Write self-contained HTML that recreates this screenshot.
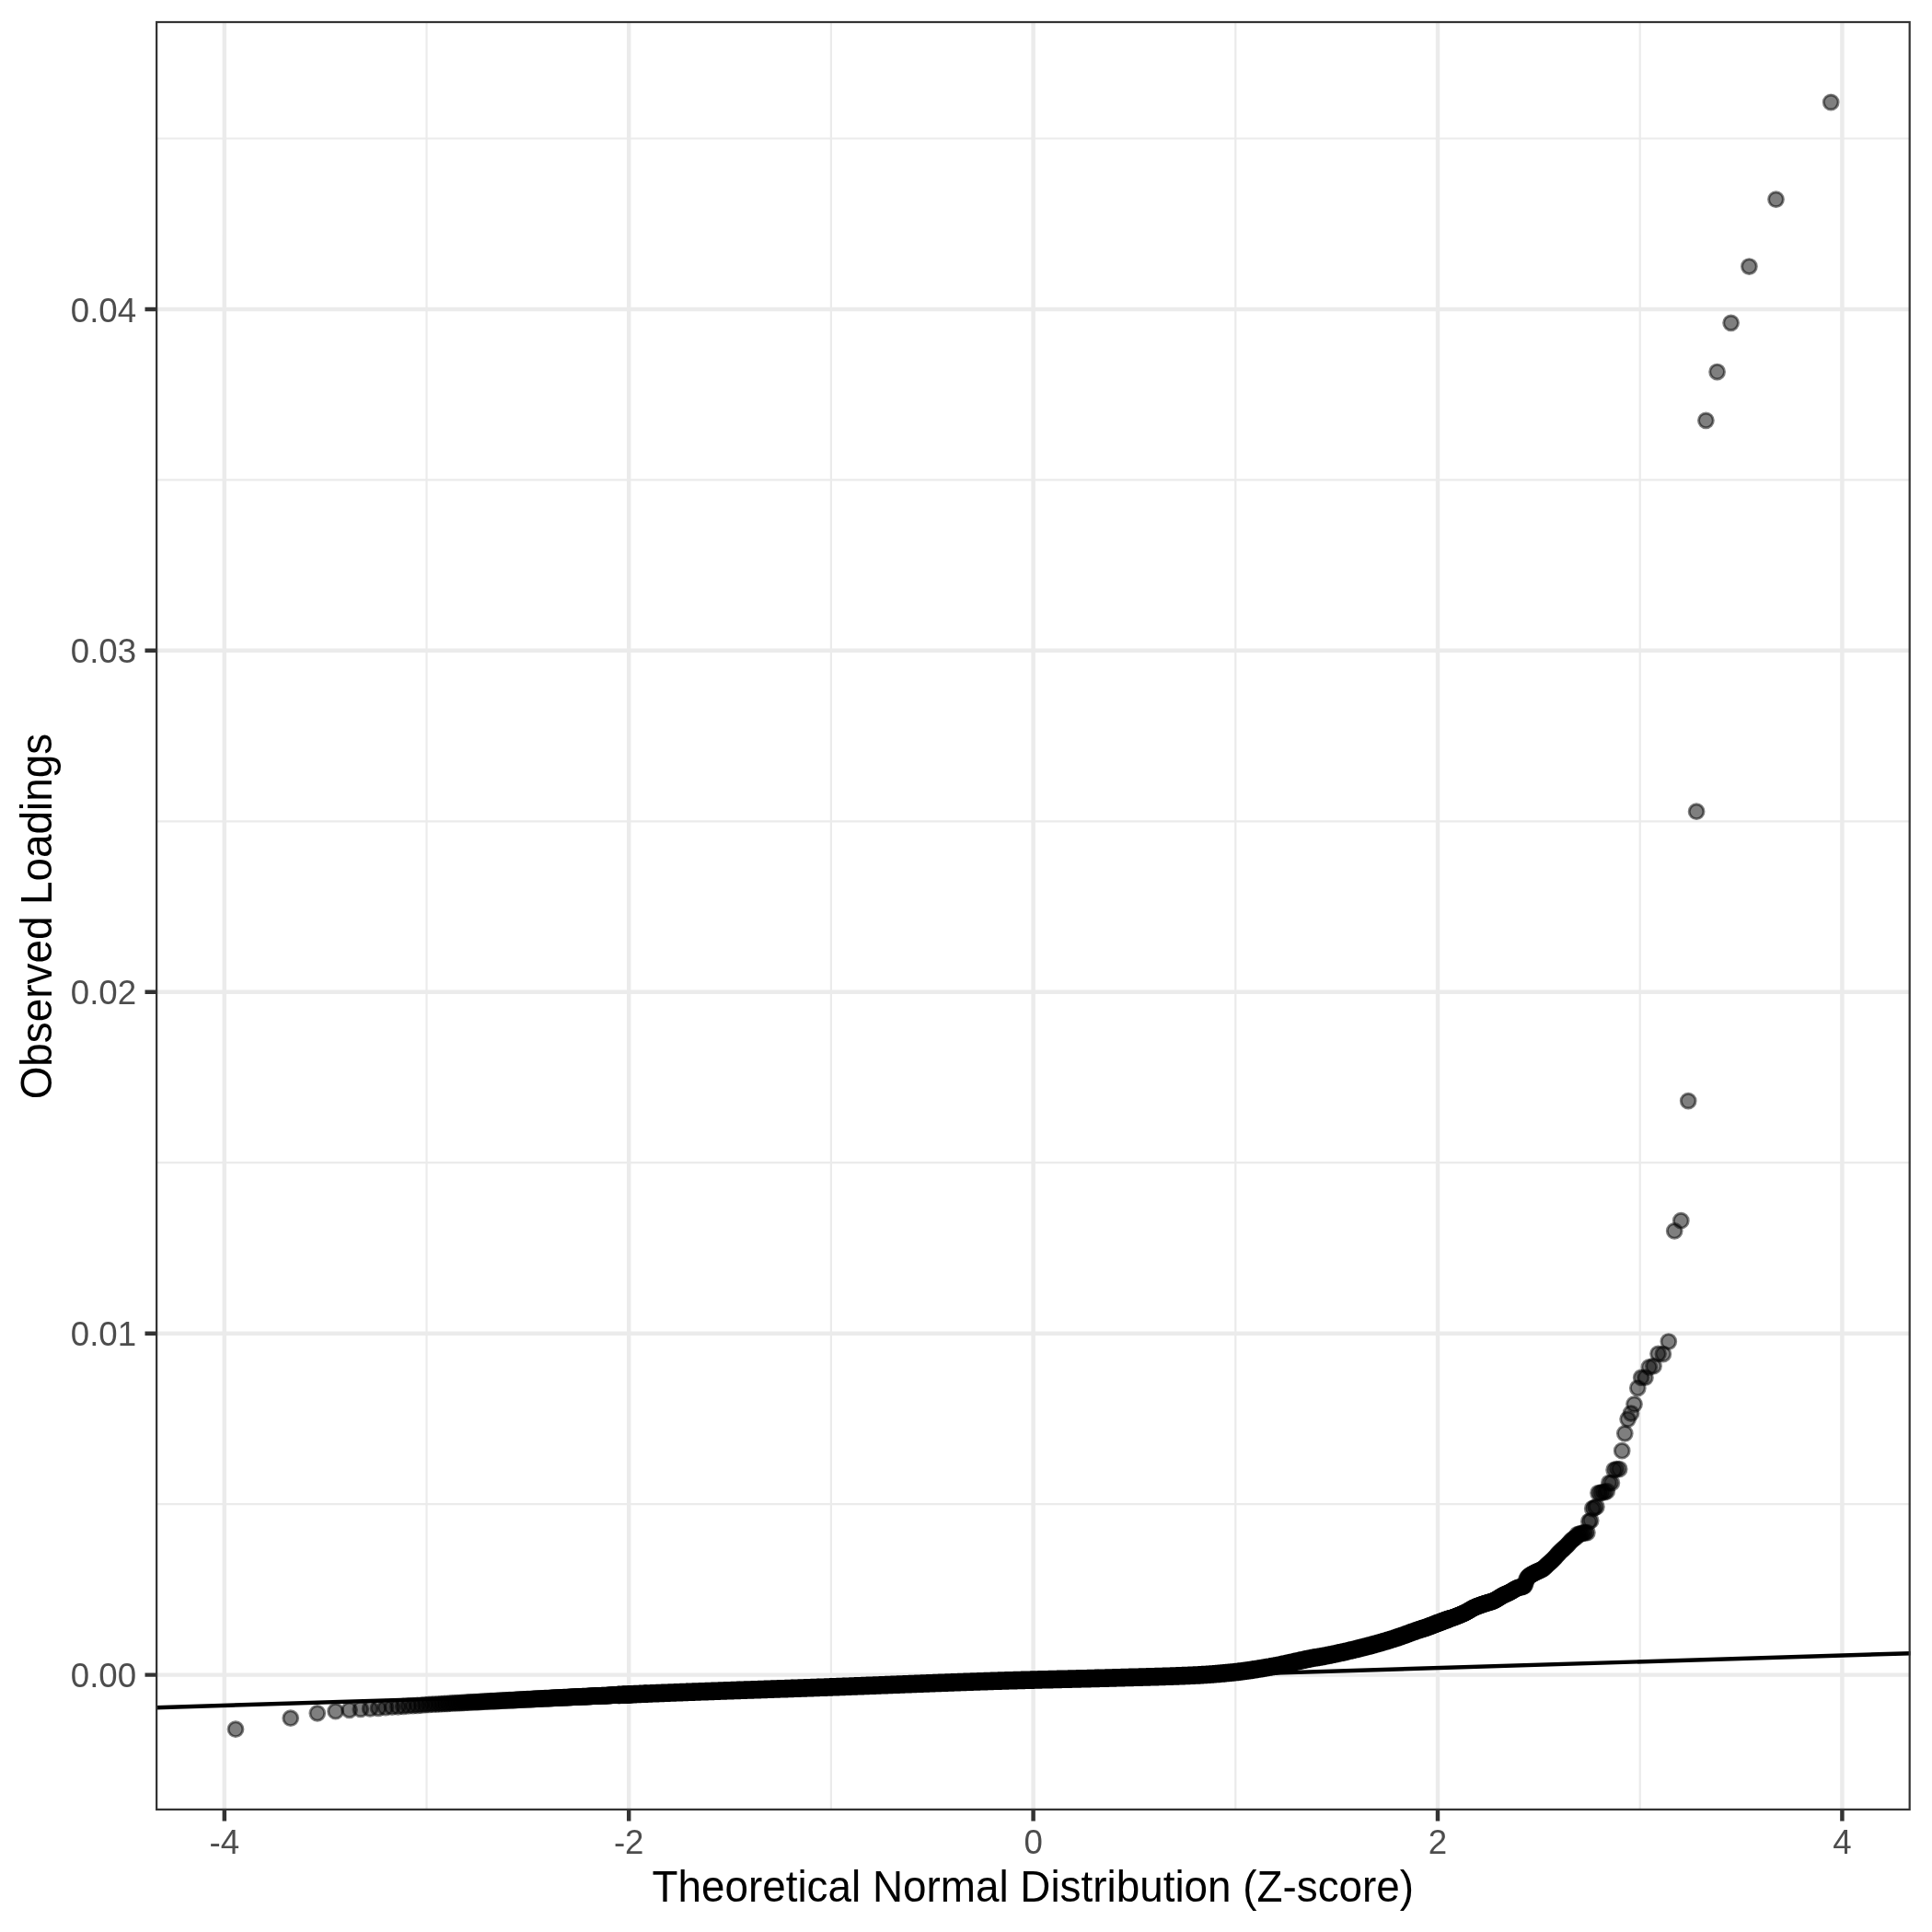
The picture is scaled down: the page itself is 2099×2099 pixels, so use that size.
<!DOCTYPE html><html><head><meta charset="utf-8"><style>html,body{margin:0;padding:0;background:#fff;width:2099px;height:2099px;overflow:hidden}svg{display:block;will-change:transform}</style></head><body><svg width="2099" height="2099" viewBox="0 0 2099 2099"><rect width="2099" height="2099" fill="#fff"/><defs><clipPath id="p"><rect x="169.0" y="22.9" width="1906.8" height="1944.1"/></clipPath></defs><g clip-path="url(#p)"><path d="M463.5 22.9V1967.0M902.9 22.9V1967.0M1342.3 22.9V1967.0M1781.7 22.9V1967.0M169.0 1634.1H2075.8M169.0 1263.2H2075.8M169.0 892.3H2075.8M169.0 521.4H2075.8M169.0 150.5H2075.8" stroke="#EBEBEB" stroke-width="2.22" fill="none"/><path d="M243.8 22.9V1967.0M683.2 22.9V1967.0M1122.6 22.9V1967.0M1562.0 22.9V1967.0M2001.4 22.9V1967.0M169.0 1819.6H2075.8M169.0 1448.7H2075.8M169.0 1077.8H2075.8M169.0 706.8H2075.8M169.0 335.9H2075.8" stroke="#EBEBEB" stroke-width="4.45" fill="none"/><path d="M671.6 1841.4 672.7 1841.4 673.7 1841.3 674.8 1841.3 675.8 1841.2 676.9 1841.2 677.9 1841.1 678.9 1841.1 679.9 1841.1 680.9 1841.0 681.9 1841.0 682.9 1840.9 683.9 1840.9 684.9 1840.8 685.8 1840.8 686.8 1840.8 687.7 1840.7 688.6 1840.7 689.6 1840.6 690.5 1840.6 691.4 1840.6 692.3 1840.5 693.2 1840.5 694.4 1840.4 695.5 1840.4 696.7 1840.3 697.9 1840.3 699.0 1840.2 700.1 1840.2 701.2 1840.1 702.3 1840.1 703.4 1840.1 704.5 1840.0 705.6 1840.0 706.6 1839.9 707.7 1839.9 708.7 1839.8 709.8 1839.8 710.8 1839.8 711.8 1839.7 712.8 1839.7 713.8 1839.6 714.8 1839.6 715.8 1839.6 716.8 1839.5 717.7 1839.5 718.7 1839.4 719.6 1839.4 720.6 1839.4 721.5 1839.3 722.5 1839.3 723.4 1839.3 724.3 1839.2 725.2 1839.2 726.1 1839.2 727.0 1839.1 728.1 1839.1 729.2 1839.0 730.3 1839.0 731.4 1839.0 732.4 1838.9 733.5 1838.9 734.6 1838.8 735.6 1838.8 736.6 1838.8 737.7 1838.7 738.7 1838.7 739.7 1838.6 740.7 1838.6 741.7 1838.6 742.7 1838.5 743.7 1838.5 744.6 1838.5 745.6 1838.4 746.5 1838.4 747.5 1838.3 748.4 1838.3 749.4 1838.3 750.3 1838.2 751.2 1838.2 752.1 1838.2 753.1 1838.1 754.0 1838.1 754.9 1838.1 755.9 1838.0 757.0 1838.0 758.0 1838.0 759.1 1837.9 760.1 1837.9 761.1 1837.8 762.2 1837.8 763.2 1837.8 764.2 1837.7 765.2 1837.7 766.2 1837.7 767.1 1837.6 768.1 1837.6 769.1 1837.6 770.0 1837.5 771.0 1837.5 772.0 1837.5 772.9 1837.4 773.8 1837.4 774.8 1837.4 775.7 1837.3 776.6 1837.3 777.5 1837.3 778.4 1837.2 779.3 1837.2 780.4 1837.2 781.4 1837.1 782.4 1837.1 783.4 1837.0 784.4 1837.0 785.4 1837.0 786.4 1836.9 787.4 1836.9 788.4 1836.9 789.4 1836.8 790.4 1836.8 791.3 1836.8 792.3 1836.7 793.2 1836.7 794.2 1836.7 795.1 1836.6 796.1 1836.6 797.0 1836.6 797.9 1836.5 798.8 1836.5 799.7 1836.5 800.6 1836.4 801.5 1836.4 802.4 1836.4 803.5 1836.4 804.5 1836.3 805.5 1836.3 806.5 1836.2 807.4 1836.2 808.4 1836.2 809.4 1836.1 810.4 1836.1 811.3 1836.1 812.3 1836.0 813.3 1836.0 814.2 1836.0 815.1 1836.0 816.1 1835.9 817.0 1835.9 817.9 1835.9 818.9 1835.8 819.8 1835.8 820.7 1835.8 821.6 1835.7 822.5 1835.7 823.5 1835.7 824.5 1835.6 825.5 1835.6 826.5 1835.6 827.4 1835.5 828.4 1835.5 829.4 1835.5 830.3 1835.4 831.3 1835.4 832.3 1835.4 833.2 1835.3 834.1 1835.3 835.1 1835.3 836.0 1835.2 836.9 1835.2 837.9 1835.2 838.8 1835.1 839.7 1835.1 840.6 1835.1 841.5 1835.0 842.4 1835.0 843.4 1835.0 844.4 1834.9 845.3 1834.9 846.3 1834.9 847.3 1834.8 848.3 1834.8 849.2 1834.8 850.2 1834.8 851.1 1834.7 852.1 1834.7 853.0 1834.7 853.9 1834.6 854.9 1834.6 855.8 1834.6 856.7 1834.5 857.6 1834.5 858.5 1834.5 859.4 1834.4 860.3 1834.4 861.2 1834.4 862.2 1834.3 863.2 1834.3 864.1 1834.3 865.1 1834.2 866.1 1834.2 867.0 1834.2 868.0 1834.1 868.9 1834.1 869.9 1834.1 870.8 1834.0 871.7 1834.0 872.7 1834.0 873.6 1833.9 874.5 1833.9 875.4 1833.9 876.3 1833.8 877.2 1833.8 878.1 1833.8 879.0 1833.7 879.9 1833.7 880.9 1833.7 881.9 1833.6 882.8 1833.6 883.8 1833.6 884.7 1833.5 885.7 1833.5 886.6 1833.5 887.6 1833.4 888.5 1833.4 889.4 1833.4 890.4 1833.3 891.3 1833.3 892.2 1833.3 893.1 1833.2 894.0 1833.2 894.9 1833.2 895.8 1833.2 896.7 1833.1 897.6 1833.1 898.6 1833.1 899.6 1833.0 900.5 1833.0 901.5 1832.9 902.4 1832.9 903.4 1832.9 904.3 1832.8 905.2 1832.8 906.2 1832.8 907.1 1832.7 908.0 1832.7 908.9 1832.7 909.9 1832.6 910.8 1832.6 911.7 1832.6 912.6 1832.5 913.5 1832.5 914.4 1832.5 915.3 1832.4 916.2 1832.4 917.2 1832.4 918.2 1832.3 919.1 1832.3 920.0 1832.3 921.0 1832.2 921.9 1832.2 922.9 1832.2 923.8 1832.1 924.7 1832.1 925.6 1832.0 926.6 1832.0 927.5 1832.0 928.4 1831.9 929.3 1831.9 930.2 1831.9 931.1 1831.8 932.0 1831.8 932.9 1831.8 933.8 1831.7 934.8 1831.7 935.7 1831.7 936.7 1831.6 937.6 1831.6 938.5 1831.6 939.5 1831.5 940.4 1831.5 941.3 1831.4 942.3 1831.4 943.2 1831.4 944.1 1831.3 945.0 1831.3 945.9 1831.3 946.9 1831.2 947.8 1831.2 948.7 1831.2 949.6 1831.1 950.5 1831.1 951.4 1831.1 952.3 1831.0 953.2 1831.0 954.2 1831.0 955.1 1830.9 956.0 1830.9 957.0 1830.8 957.9 1830.8 958.9 1830.8 959.8 1830.7 960.7 1830.7 961.6 1830.7 962.6 1830.6 963.5 1830.6 964.4 1830.6 965.3 1830.5 966.2 1830.5 967.1 1830.5 968.0 1830.4 968.9 1830.4 969.8 1830.3 970.7 1830.3 971.6 1830.3 972.6 1830.2 973.5 1830.2 974.4 1830.2 975.4 1830.1 976.3 1830.1 977.3 1830.1 978.2 1830.0 979.1 1830.0 980.0 1830.0 981.0 1829.9 981.9 1829.9 982.8 1829.8 983.7 1829.8 984.6 1829.8 985.5 1829.7 986.4 1829.7 987.4 1829.7 988.3 1829.6 989.2 1829.6 990.1 1829.6 991.0 1829.5 991.9 1829.5 992.8 1829.5 993.7 1829.4 994.7 1829.4 995.6 1829.3 996.6 1829.3 997.5 1829.3 998.4 1829.2 999.3 1829.2 1000.3 1829.2 1001.2 1829.1 1002.1 1829.1 1003.0 1829.1 1004.0 1829.0 1004.9 1829.0 1005.8 1829.0 1006.7 1828.9 1007.6 1828.9 1008.5 1828.9 1009.4 1828.8 1010.3 1828.8 1011.2 1828.8 1012.1 1828.7 1013.0 1828.7 1013.9 1828.7 1014.8 1828.6 1015.8 1828.6 1016.7 1828.5 1017.7 1828.5 1018.6 1828.5 1019.5 1828.4 1020.5 1828.4 1021.4 1828.4 1022.3 1828.3 1023.3 1828.3 1024.2 1828.3 1025.1 1828.2 1026.0 1828.2 1026.9 1828.2 1027.9 1828.1 1028.8 1828.1 1029.7 1828.1 1030.6 1828.0 1031.5 1828.0 1032.4 1828.0 1033.3 1827.9 1034.3 1827.9 1035.2 1827.9 1036.1 1827.8 1037.0 1827.8 1037.9 1827.8 1038.8 1827.7 1039.7 1827.7 1040.6 1827.7 1041.5 1827.6 1042.4 1827.6 1043.3 1827.6 1044.2 1827.5 1045.1 1827.5 1046.1 1827.5 1047.0 1827.4 1047.9 1827.4 1048.9 1827.4 1049.8 1827.3 1050.7 1827.3 1051.7 1827.3 1052.6 1827.2 1053.5 1827.2 1054.4 1827.2 1055.4 1827.1 1056.3 1827.1 1057.2 1827.1 1058.1 1827.0 1059.1 1827.0 1060.0 1827.0 1060.9 1827.0 1061.8 1826.9 1062.7 1826.9 1063.6 1826.9 1064.5 1826.8 1065.5 1826.8 1066.4 1826.8 1067.3 1826.7 1068.2 1826.7 1069.1 1826.7 1070.0 1826.6 1070.9 1826.6 1071.8 1826.6 1072.7 1826.6 1073.6 1826.5 1074.5 1826.5 1075.4 1826.5 1076.3 1826.4 1077.2 1826.4 1078.1 1826.4 1079.0 1826.3 1079.9 1826.3 1080.8 1826.3 1081.7 1826.3 1082.6 1826.2 1083.5 1826.2 1084.4 1826.2 1085.3 1826.1 1086.2 1826.1 1087.2 1826.1 1088.1 1826.1 1089.1 1826.0 1090.0 1826.0 1090.9 1826.0 1091.9 1825.9 1092.8 1825.9 1093.7 1825.9 1094.7 1825.9 1095.6 1825.8 1096.5 1825.8 1097.5 1825.8 1098.4 1825.7 1099.3 1825.7 1100.2 1825.7 1101.2 1825.7 1102.1 1825.6 1103.0 1825.6 1104.0 1825.6 1104.9 1825.6 1105.8 1825.5 1106.7 1825.5 1107.7 1825.5 1108.6 1825.5 1109.5 1825.4 1110.5 1825.4 1111.4 1825.4 1112.3 1825.4 1113.2 1825.3 1114.2 1825.3 1115.1 1825.3 1116.0 1825.3 1116.9 1825.2 1117.9 1825.2 1118.8 1825.2 1119.7 1825.2 1120.6 1825.1 1121.6 1825.1 1122.5 1825.1 1123.4 1825.1 1124.3 1825.0 1125.3 1825.0 1126.2 1825.0 1127.1 1825.0 1128.0 1824.9 1129.0 1824.9 1129.9 1824.9 1130.8 1824.9 1131.7 1824.8 1132.7 1824.8 1133.6 1824.8 1134.5 1824.8 1135.4 1824.8 1136.4 1824.7 1137.3 1824.7 1138.2 1824.7 1139.2 1824.7 1140.1 1824.6 1141.0 1824.6 1141.9 1824.6 1142.9 1824.6 1143.8 1824.6 1144.7 1824.5 1145.7 1824.5 1146.6 1824.5 1147.5 1824.5 1148.5 1824.4 1149.4 1824.4 1150.3 1824.4 1151.3 1824.4 1152.2 1824.4 1153.1 1824.3 1154.1 1824.3 1155.0 1824.3 1155.9 1824.3 1156.9 1824.2 1157.8 1824.2 1158.7 1824.2 1159.7 1824.2 1160.6 1824.2 1161.5 1824.1 1162.4 1824.1 1163.3 1824.1 1164.2 1824.1 1165.1 1824.0 1166.0 1824.0 1166.9 1824.0 1167.8 1824.0 1168.7 1824.0 1169.6 1823.9 1170.5 1823.9 1171.4 1823.9 1172.3 1823.9 1173.2 1823.9 1174.1 1823.8 1175.0 1823.8 1175.9 1823.8 1176.8 1823.8 1177.7 1823.7 1178.6 1823.7 1179.6 1823.7 1180.5 1823.7 1181.4 1823.7 1182.3 1823.6 1183.2 1823.6 1184.1 1823.6 1185.0 1823.6 1186.0 1823.5 1186.9 1823.5 1187.8 1823.5 1188.7 1823.5 1189.6 1823.4 1190.6 1823.4 1191.5 1823.4 1192.4 1823.4 1193.3 1823.4 1194.3 1823.3 1195.2 1823.3 1196.1 1823.3 1197.1 1823.3 1198.0 1823.2 1198.9 1823.2 1199.9 1823.2 1200.8 1823.2 1201.8 1823.1 1202.7 1823.1 1203.6 1823.1 1204.5 1823.1 1205.4 1823.0 1206.3 1823.0 1207.2 1823.0 1208.1 1823.0 1209.0 1822.9 1209.9 1822.9 1210.8 1822.9 1211.7 1822.9 1212.6 1822.8 1213.5 1822.8 1214.4 1822.8 1215.4 1822.7 1216.3 1822.7 1217.2 1822.7 1218.1 1822.7 1219.0 1822.6 1220.0 1822.6 1220.9 1822.6 1221.8 1822.6 1222.7 1822.5 1223.7 1822.5 1224.6 1822.5 1225.5 1822.5 1226.5 1822.4 1227.4 1822.4 1228.3 1822.4 1229.3 1822.4 1230.2 1822.4 1231.1 1822.3 1232.0 1822.3 1232.9 1822.3 1233.8 1822.3 1234.7 1822.2 1235.6 1822.2 1236.5 1822.2 1237.4 1822.2 1238.3 1822.1 1239.3 1822.1 1240.2 1822.1 1241.1 1822.1 1242.0 1822.0 1242.9 1822.0 1243.8 1822.0 1244.8 1822.0 1245.7 1821.9 1246.6 1821.9 1247.6 1821.9 1248.5 1821.9 1249.4 1821.8 1250.4 1821.8 1251.3 1821.8 1252.2 1821.8 1253.2 1821.7 1254.1 1821.7 1255.0 1821.7 1255.9 1821.6 1256.8 1821.6 1257.7 1821.6 1258.6 1821.6 1259.5 1821.5 1260.4 1821.5 1261.3 1821.5 1262.2 1821.5 1263.2 1821.4 1264.1 1821.4 1265.0 1821.4 1265.9 1821.3 1266.9 1821.3 1267.8 1821.3 1268.7 1821.2 1269.7 1821.2 1270.6 1821.2 1271.5 1821.2 1272.5 1821.1 1273.4 1821.1 1274.4 1821.1 1275.3 1821.0 1276.2 1821.0 1277.1 1821.0 1278.0 1820.9 1278.9 1820.9 1279.8 1820.9 1280.7 1820.8 1281.6 1820.8 1282.5 1820.8 1283.5 1820.7 1284.4 1820.7 1285.3 1820.6 1286.2 1820.6 1287.2 1820.6 1288.1 1820.5 1289.0 1820.5 1290.0 1820.5 1290.9 1820.4 1291.9 1820.4 1292.8 1820.3 1293.7 1820.3 1294.6 1820.3 1295.5 1820.2 1296.4 1820.2 1297.3 1820.1 1298.2 1820.1 1299.1 1820.0 1300.0 1820.0 1301.0 1820.0 1301.9 1819.9 1302.8 1819.9 1303.7 1819.8 1304.7 1819.8 1305.6 1819.7 1306.5 1819.6 1307.5 1819.6 1308.4 1819.5 1309.4 1819.5 1310.3 1819.4 1311.3 1819.3 1312.2 1819.3 1313.1 1819.2 1314.0 1819.2 1314.9 1819.1 1315.8 1819.0 1316.7 1819.0 1317.6 1818.9 1318.5 1818.8 1319.4 1818.7 1320.3 1818.7 1321.3 1818.6 1322.2 1818.5 1323.1 1818.4 1324.1 1818.4 1325.0 1818.3 1326.0 1818.2 1326.9 1818.1 1327.9 1818.0 1328.8 1817.9 1329.7 1817.9 1330.6 1817.8 1331.5 1817.7 1332.4 1817.6 1333.3 1817.5 1334.2 1817.4 1335.1 1817.3 1336.0 1817.2 1337.0 1817.2 1337.9 1817.1 1338.8 1817.0 1339.8 1816.9 1340.7 1816.8 1341.6 1816.7 1342.6 1816.6 1343.5 1816.5 1344.5 1816.4 1345.4 1816.3 1346.4 1816.1 1347.3 1816.0 1348.2 1815.9 1349.1 1815.8 1350.0 1815.7 1350.9 1815.6 1351.8 1815.5 1352.7 1815.3 1353.6 1815.2 1354.5 1815.1 1355.5 1815.0 1356.4 1814.8 1357.3 1814.7 1358.3 1814.6 1359.2 1814.4 1360.1 1814.3 1361.1 1814.1 1362.0 1814.0 1363.0 1813.8 1363.9 1813.7 1364.8 1813.5 1365.7 1813.4 1366.6 1813.3 1367.5 1813.1 1368.4 1813.0 1369.3 1812.8 1370.2 1812.7 1371.1 1812.5 1372.0 1812.4 1373.0 1812.2 1373.9 1812.0 1374.8 1811.9 1375.8 1811.7 1376.7 1811.6 1377.7 1811.4 1378.6 1811.2 1379.6 1811.1 1380.5 1810.9 1381.5 1810.7 1382.4 1810.6 1383.3 1810.4 1384.2 1810.3 1385.1 1810.1 1386.0 1809.9 1386.9 1809.8 1387.8 1809.6 1388.7 1809.4 1389.6 1809.2 1390.5 1809.0 1391.5 1808.8 1392.4 1808.6 1393.3 1808.4 1394.3 1808.2 1395.2 1808.0 1396.2 1807.8 1397.1 1807.6 1398.1 1807.4 1399.1 1807.2 1400.0 1807.0 1400.8 1806.8 1401.7 1806.6 1402.6 1806.4 1403.5 1806.2 1404.4 1806.0 1405.3 1805.8 1406.2 1805.6 1407.1 1805.4 1408.1 1805.2 1409.0 1805.0 1409.9 1804.8 1410.8 1804.5 1411.8 1804.3 1412.7 1804.1 1413.7 1803.9 1414.6 1803.7 1415.6 1803.5 1416.6 1803.3 1417.5 1803.1 1418.5 1802.9 1419.5 1802.7 1420.4 1802.5 1421.3 1802.3 1422.2 1802.2 1423.1 1802.0 1424.0 1801.8 1424.9 1801.6 1425.8 1801.5 1426.7 1801.3 1427.6 1801.1 1428.5 1801.0 1429.5 1800.8 1430.4 1800.7 1431.4 1800.5 1432.3 1800.4 1433.3 1800.2 1434.2 1800.0 1435.2 1799.9 1436.2 1799.7 1437.1 1799.5 1438.1 1799.4 1439.1 1799.2 1440.1 1799.0 1441.0 1798.8 1441.9 1798.6 1442.8 1798.5 1443.7 1798.3 1444.6 1798.1 1445.5 1797.9 1446.4 1797.7 1447.3 1797.5 1448.2 1797.3 1449.1 1797.2 1450.1 1797.0 1451.0 1796.8 1452.0 1796.5 1452.9 1796.3 1453.9 1796.1 1454.8 1795.9 1455.8 1795.7 1456.8 1795.5 1457.8 1795.3 1458.8 1795.0 1459.8 1794.8 1460.8 1794.6 1461.8 1794.4 1462.6 1794.2 1463.5 1794.0 1464.4 1793.7 1465.3 1793.5 1466.2 1793.3 1467.1 1793.1 1468.0 1792.9 1468.9 1792.7 1469.8 1792.5 1470.8 1792.3 1471.7 1792.0 1472.6 1791.8 1473.6 1791.6 1474.5 1791.4 1475.5 1791.1 1476.4 1790.9 1477.4 1790.6 1478.4 1790.4 1479.4 1790.2 1480.4 1789.9 1481.4 1789.6 1482.4 1789.4 1483.4 1789.1 1484.4 1788.9 1485.4 1788.6 1486.5 1788.3 1487.3 1788.1 1488.2 1787.9 1489.1 1787.6 1490.0 1787.4 1490.9 1787.1 1491.8 1786.9 1492.7 1786.7 1493.6 1786.4 1494.5 1786.2 1495.5 1785.9 1496.4 1785.6 1497.3 1785.4 1498.3 1785.1 1499.2 1784.8 1500.2 1784.5 1501.2 1784.3 1502.1 1784.0 1503.1 1783.7 1504.1 1783.4 1505.1 1783.1 1506.1 1782.8 1507.1 1782.5 1508.1 1782.2 1509.2 1781.9 1510.2 1781.5 1511.3 1781.2 1512.3 1780.9 1513.4 1780.6 1514.3 1780.3 1515.1 1780.0 1516.0 1779.7 1516.9 1779.4 1517.8 1779.1 1518.6 1778.9 1519.5 1778.6 1520.4 1778.2 1521.4 1777.9 1522.3 1777.6 1523.2 1777.3 1524.1 1776.9 1525.1 1776.6 1526.0 1776.3 1527.0 1775.9 1527.9 1775.6 1528.9 1775.2 1529.9 1774.8 1530.9 1774.5 1531.9 1774.1 1532.9 1773.7 1533.9 1773.4 1534.9 1773.0 1535.9 1772.6 1537.0 1772.3 1538.0 1771.9 1539.1 1771.5 1540.2 1771.1 1541.2 1770.8 1542.3 1770.4 1543.4 1770.1 1544.5 1769.7 1545.6 1769.4 1546.8 1769.0 1547.6 1768.7 1548.5 1768.5 1549.4 1768.2 1550.2 1767.9 1551.1 1767.5 1552.0 1767.2 1552.9 1766.9 1553.8 1766.6 1554.7 1766.2 1555.6 1765.9 1556.6 1765.5 1557.5 1765.1 1558.4 1764.8 1559.4 1764.4 1560.3 1764.0 1561.3 1763.7 1562.3 1763.3 1563.3 1762.9 1564.3 1762.6 1565.3 1762.2 1566.3 1761.8 1567.3 1761.4 1568.3 1761.0 1569.4 1760.6 1570.4 1760.2 1571.5 1759.9 1572.5 1759.5 1573.6 1759.1 1573.6 1759.1" stroke="#000" stroke-width="19.60" stroke-linecap="round" stroke-linejoin="round" fill="none"/><g fill="#000" fill-opacity="0.5" stroke="#000" stroke-opacity="0.5" stroke-width="2.95"><circle cx="256.0" cy="1878.7" r="7.9"/><circle cx="315.7" cy="1866.7" r="7.9"/><circle cx="344.8" cy="1861.3" r="7.9"/><circle cx="364.6" cy="1859.2" r="7.9"/><circle cx="379.6" cy="1857.8" r="7.9"/><circle cx="391.8" cy="1856.9" r="7.9"/><circle cx="402.1" cy="1856.4" r="7.9"/><circle cx="411.0" cy="1855.8" r="7.9"/><circle cx="418.9" cy="1855.2" r="7.9"/><circle cx="426.0" cy="1854.7" r="7.9"/><circle cx="432.4" cy="1854.3" r="7.9"/><circle cx="438.3" cy="1853.8" r="7.9"/><circle cx="443.7" cy="1853.4" r="7.9"/><circle cx="448.7" cy="1853.1" r="7.9"/><circle cx="453.4" cy="1852.8" r="7.9"/><circle cx="457.8" cy="1852.5" r="7.9"/><circle cx="462.0" cy="1852.2" r="7.9"/><circle cx="465.9" cy="1851.9" r="7.9"/><circle cx="469.7" cy="1851.7" r="7.9"/><circle cx="473.2" cy="1851.5" r="7.9"/><circle cx="476.6" cy="1851.3" r="7.9"/><circle cx="479.9" cy="1851.1" r="7.9"/><circle cx="483.0" cy="1850.9" r="7.9"/><circle cx="486.0" cy="1850.8" r="7.9"/><circle cx="488.9" cy="1850.6" r="7.9"/><circle cx="491.6" cy="1850.4" r="7.9"/><circle cx="494.3" cy="1850.3" r="7.9"/><circle cx="496.9" cy="1850.2" r="7.9"/><circle cx="499.4" cy="1850.0" r="7.9"/><circle cx="501.8" cy="1849.9" r="7.9"/><circle cx="504.2" cy="1849.8" r="7.9"/><circle cx="506.5" cy="1849.6" r="7.9"/><circle cx="508.7" cy="1849.5" r="7.9"/><circle cx="510.8" cy="1849.4" r="7.9"/><circle cx="512.9" cy="1849.3" r="7.9"/><circle cx="515.0" cy="1849.2" r="7.9"/><circle cx="517.0" cy="1849.1" r="7.9"/><circle cx="518.9" cy="1849.0" r="7.9"/><circle cx="520.8" cy="1848.9" r="7.9"/><circle cx="522.7" cy="1848.8" r="7.9"/><circle cx="524.5" cy="1848.7" r="7.9"/><circle cx="526.3" cy="1848.6" r="7.9"/><circle cx="528.0" cy="1848.5" r="7.9"/><circle cx="529.7" cy="1848.4" r="7.9"/><circle cx="531.3" cy="1848.3" r="7.9"/><circle cx="533.0" cy="1848.2" r="7.9"/><circle cx="534.6" cy="1848.2" r="7.9"/><circle cx="536.1" cy="1848.1" r="7.9"/><circle cx="537.7" cy="1848.0" r="7.9"/><circle cx="539.2" cy="1847.9" r="7.9"/><circle cx="540.7" cy="1847.8" r="7.9"/><circle cx="542.1" cy="1847.8" r="7.9"/><circle cx="543.6" cy="1847.7" r="7.9"/><circle cx="545.0" cy="1847.6" r="7.9"/><circle cx="546.4" cy="1847.5" r="7.9"/><circle cx="547.7" cy="1847.5" r="7.9"/><circle cx="549.1" cy="1847.4" r="7.9"/><circle cx="550.4" cy="1847.3" r="7.9"/><circle cx="551.7" cy="1847.3" r="7.9"/><circle cx="553.0" cy="1847.2" r="7.9"/><circle cx="554.2" cy="1847.1" r="7.9"/><circle cx="555.5" cy="1847.1" r="7.9"/><circle cx="556.7" cy="1847.0" r="7.9"/><circle cx="557.9" cy="1847.0" r="7.9"/><circle cx="559.1" cy="1846.9" r="7.9"/><circle cx="560.3" cy="1846.8" r="7.9"/><circle cx="561.4" cy="1846.8" r="7.9"/><circle cx="562.6" cy="1846.7" r="7.9"/><circle cx="563.7" cy="1846.7" r="7.9"/><circle cx="564.8" cy="1846.6" r="7.9"/><circle cx="565.9" cy="1846.5" r="7.9"/><circle cx="567.0" cy="1846.5" r="7.9"/><circle cx="568.1" cy="1846.4" r="7.9"/><circle cx="569.1" cy="1846.4" r="7.9"/><circle cx="570.2" cy="1846.3" r="7.9"/><circle cx="571.2" cy="1846.3" r="7.9"/><circle cx="572.2" cy="1846.2" r="7.9"/><circle cx="573.2" cy="1846.2" r="7.9"/><circle cx="574.2" cy="1846.1" r="7.9"/><circle cx="575.2" cy="1846.1" r="7.9"/><circle cx="576.2" cy="1846.0" r="7.9"/><circle cx="577.2" cy="1846.0" r="7.9"/><circle cx="578.1" cy="1845.9" r="7.9"/><circle cx="579.1" cy="1845.9" r="7.9"/><circle cx="580.0" cy="1845.8" r="7.9"/><circle cx="580.9" cy="1845.8" r="7.9"/><circle cx="581.8" cy="1845.7" r="7.9"/><circle cx="582.7" cy="1845.7" r="7.9"/><circle cx="583.6" cy="1845.6" r="7.9"/><circle cx="584.5" cy="1845.6" r="7.9"/><circle cx="585.4" cy="1845.5" r="7.9"/><circle cx="586.3" cy="1845.5" r="7.9"/><circle cx="587.1" cy="1845.5" r="7.9"/><circle cx="588.0" cy="1845.4" r="7.9"/><circle cx="588.8" cy="1845.4" r="7.9"/><circle cx="589.7" cy="1845.3" r="7.9"/><circle cx="590.5" cy="1845.3" r="7.9"/><circle cx="591.3" cy="1845.2" r="7.9"/><circle cx="592.2" cy="1845.2" r="7.9"/><circle cx="593.0" cy="1845.2" r="7.9"/><circle cx="593.8" cy="1845.1" r="7.9"/><circle cx="594.6" cy="1845.1" r="7.9"/><circle cx="595.3" cy="1845.0" r="7.9"/><circle cx="596.1" cy="1845.0" r="7.9"/><circle cx="596.9" cy="1845.0" r="7.9"/><circle cx="597.7" cy="1844.9" r="7.9"/><circle cx="598.4" cy="1844.9" r="7.9"/><circle cx="599.2" cy="1844.9" r="7.9"/><circle cx="599.9" cy="1844.8" r="7.9"/><circle cx="600.7" cy="1844.8" r="7.9"/><circle cx="601.4" cy="1844.7" r="7.9"/><circle cx="602.1" cy="1844.7" r="7.9"/><circle cx="602.9" cy="1844.7" r="7.9"/><circle cx="603.6" cy="1844.6" r="7.9"/><circle cx="604.3" cy="1844.6" r="7.9"/><circle cx="605.0" cy="1844.6" r="7.9"/><circle cx="605.7" cy="1844.5" r="7.9"/><circle cx="606.4" cy="1844.5" r="7.9"/><circle cx="607.1" cy="1844.5" r="7.9"/><circle cx="607.8" cy="1844.4" r="7.9"/><circle cx="608.5" cy="1844.4" r="7.9"/><circle cx="609.2" cy="1844.4" r="7.9"/><circle cx="609.8" cy="1844.3" r="7.9"/><circle cx="610.5" cy="1844.3" r="7.9"/><circle cx="611.2" cy="1844.3" r="7.9"/><circle cx="611.8" cy="1844.2" r="7.9"/><circle cx="612.5" cy="1844.2" r="7.9"/><circle cx="613.1" cy="1844.2" r="7.9"/><circle cx="613.8" cy="1844.1" r="7.9"/><circle cx="614.4" cy="1844.1" r="7.9"/><circle cx="615.1" cy="1844.1" r="7.9"/><circle cx="615.7" cy="1844.0" r="7.9"/><circle cx="616.3" cy="1844.0" r="7.9"/><circle cx="616.9" cy="1844.0" r="7.9"/><circle cx="617.6" cy="1843.9" r="7.9"/><circle cx="618.2" cy="1843.9" r="7.9"/><circle cx="618.8" cy="1843.9" r="7.9"/><circle cx="619.4" cy="1843.9" r="7.9"/><circle cx="620.0" cy="1843.8" r="7.9"/><circle cx="620.6" cy="1843.8" r="7.9"/><circle cx="621.2" cy="1843.8" r="7.9"/><circle cx="621.8" cy="1843.7" r="7.9"/><circle cx="622.4" cy="1843.7" r="7.9"/><circle cx="623.0" cy="1843.7" r="7.9"/><circle cx="623.6" cy="1843.7" r="7.9"/><circle cx="624.1" cy="1843.6" r="7.9"/><circle cx="624.7" cy="1843.6" r="7.9"/><circle cx="625.3" cy="1843.6" r="7.9"/><circle cx="625.9" cy="1843.5" r="7.9"/><circle cx="626.4" cy="1843.5" r="7.9"/><circle cx="627.0" cy="1843.5" r="7.9"/><circle cx="627.5" cy="1843.5" r="7.9"/><circle cx="628.1" cy="1843.4" r="7.9"/><circle cx="628.7" cy="1843.4" r="7.9"/><circle cx="629.2" cy="1843.4" r="7.9"/><circle cx="629.8" cy="1843.4" r="7.9"/><circle cx="630.3" cy="1843.3" r="7.9"/><circle cx="630.8" cy="1843.3" r="7.9"/><circle cx="631.4" cy="1843.3" r="7.9"/><circle cx="631.9" cy="1843.3" r="7.9"/><circle cx="632.4" cy="1843.2" r="7.9"/><circle cx="633.0" cy="1843.2" r="7.9"/><circle cx="633.5" cy="1843.2" r="7.9"/><circle cx="634.0" cy="1843.2" r="7.9"/><circle cx="634.5" cy="1843.1" r="7.9"/><circle cx="635.1" cy="1843.1" r="7.9"/><circle cx="635.6" cy="1843.1" r="7.9"/><circle cx="636.1" cy="1843.1" r="7.9"/><circle cx="636.6" cy="1843.0" r="7.9"/><circle cx="637.1" cy="1843.0" r="7.9"/><circle cx="637.6" cy="1843.0" r="7.9"/><circle cx="638.1" cy="1843.0" r="7.9"/><circle cx="638.6" cy="1842.9" r="7.9"/><circle cx="639.1" cy="1842.9" r="7.9"/><circle cx="639.6" cy="1842.9" r="7.9"/><circle cx="640.1" cy="1842.9" r="7.9"/><circle cx="640.6" cy="1842.8" r="7.9"/><circle cx="641.1" cy="1842.8" r="7.9"/><circle cx="641.6" cy="1842.8" r="7.9"/><circle cx="642.0" cy="1842.8" r="7.9"/><circle cx="642.5" cy="1842.8" r="7.9"/><circle cx="643.0" cy="1842.7" r="7.9"/><circle cx="643.5" cy="1842.7" r="7.9"/><circle cx="644.0" cy="1842.7" r="7.9"/><circle cx="644.4" cy="1842.7" r="7.9"/><circle cx="644.9" cy="1842.6" r="7.9"/><circle cx="645.4" cy="1842.6" r="7.9"/><circle cx="645.8" cy="1842.6" r="7.9"/><circle cx="646.3" cy="1842.6" r="7.9"/><circle cx="646.8" cy="1842.6" r="7.9"/><circle cx="647.2" cy="1842.5" r="7.9"/><circle cx="647.7" cy="1842.5" r="7.9"/><circle cx="648.1" cy="1842.5" r="7.9"/><circle cx="648.6" cy="1842.5" r="7.9"/><circle cx="649.0" cy="1842.4" r="7.9"/><circle cx="649.5" cy="1842.4" r="7.9"/><circle cx="649.9" cy="1842.4" r="7.9"/><circle cx="650.4" cy="1842.4" r="7.9"/><circle cx="650.8" cy="1842.4" r="7.9"/><circle cx="651.3" cy="1842.3" r="7.9"/><circle cx="651.7" cy="1842.3" r="7.9"/><circle cx="652.1" cy="1842.3" r="7.9"/><circle cx="652.6" cy="1842.3" r="7.9"/><circle cx="653.0" cy="1842.3" r="7.9"/><circle cx="653.4" cy="1842.2" r="7.9"/><circle cx="653.9" cy="1842.2" r="7.9"/><circle cx="654.3" cy="1842.2" r="7.9"/><circle cx="654.7" cy="1842.2" r="7.9"/><circle cx="655.1" cy="1842.2" r="7.9"/><circle cx="655.6" cy="1842.1" r="7.9"/><circle cx="656.0" cy="1842.1" r="7.9"/><circle cx="656.4" cy="1842.1" r="7.9"/><circle cx="656.8" cy="1842.1" r="7.9"/><circle cx="657.2" cy="1842.1" r="7.9"/><circle cx="657.7" cy="1842.0" r="7.9"/><circle cx="658.1" cy="1842.0" r="7.9"/><circle cx="658.5" cy="1842.0" r="7.9"/><circle cx="658.9" cy="1842.0" r="7.9"/><circle cx="659.3" cy="1842.0" r="7.9"/><circle cx="659.7" cy="1842.0" r="7.9"/><circle cx="660.1" cy="1841.9" r="7.9"/><circle cx="660.5" cy="1841.9" r="7.9"/><circle cx="660.9" cy="1841.9" r="7.9"/><circle cx="661.3" cy="1841.9" r="7.9"/><circle cx="661.7" cy="1841.9" r="7.9"/><circle cx="662.1" cy="1841.8" r="7.9"/><circle cx="662.5" cy="1841.8" r="7.9"/><circle cx="662.9" cy="1841.8" r="7.9"/><circle cx="663.3" cy="1841.8" r="7.9"/><circle cx="663.7" cy="1841.8" r="7.9"/><circle cx="664.1" cy="1841.8" r="7.9"/><circle cx="664.5" cy="1841.7" r="7.9"/><circle cx="664.8" cy="1841.7" r="7.9"/><circle cx="665.2" cy="1841.7" r="7.9"/><circle cx="665.6" cy="1841.7" r="7.9"/><circle cx="666.0" cy="1841.7" r="7.9"/><circle cx="666.4" cy="1841.7" r="7.9"/><circle cx="666.8" cy="1841.6" r="7.9"/><circle cx="667.1" cy="1841.6" r="7.9"/><circle cx="667.5" cy="1841.6" r="7.9"/><circle cx="667.9" cy="1841.6" r="7.9"/><circle cx="668.3" cy="1841.6" r="7.9"/><circle cx="668.6" cy="1841.6" r="7.9"/><circle cx="669.0" cy="1841.5" r="7.9"/><circle cx="669.4" cy="1841.5" r="7.9"/><circle cx="669.7" cy="1841.5" r="7.9"/><circle cx="670.1" cy="1841.5" r="7.9"/><circle cx="670.5" cy="1841.5" r="7.9"/><circle cx="670.8" cy="1841.5" r="7.9"/><circle cx="671.2" cy="1841.4" r="7.9"/><circle cx="671.6" cy="1841.4" r="7.9"/><circle cx="671.9" cy="1841.4" r="7.9"/><circle cx="672.3" cy="1841.4" r="7.9"/><circle cx="672.7" cy="1841.4" r="7.9"/><circle cx="673.0" cy="1841.4" r="7.9"/><circle cx="673.4" cy="1841.3" r="7.9"/><circle cx="673.7" cy="1841.3" r="7.9"/><circle cx="674.1" cy="1841.3" r="7.9"/><circle cx="674.4" cy="1841.3" r="7.9"/><circle cx="674.8" cy="1841.3" r="7.9"/><circle cx="675.1" cy="1841.3" r="7.9"/><circle cx="675.5" cy="1841.2" r="7.9"/><circle cx="675.8" cy="1841.2" r="7.9"/><circle cx="676.2" cy="1841.2" r="7.9"/><circle cx="676.5" cy="1841.2" r="7.9"/><circle cx="676.9" cy="1841.2" r="7.9"/><circle cx="677.2" cy="1841.2" r="7.9"/><circle cx="677.6" cy="1841.2" r="7.9"/><circle cx="677.9" cy="1841.1" r="7.9"/><circle cx="678.2" cy="1841.1" r="7.9"/><circle cx="678.6" cy="1841.1" r="7.9"/><circle cx="678.9" cy="1841.1" r="7.9"/><circle cx="679.3" cy="1841.1" r="7.9"/><circle cx="679.6" cy="1841.1" r="7.9"/><circle cx="679.9" cy="1841.1" r="7.9"/><circle cx="680.3" cy="1841.0" r="7.9"/><circle cx="680.6" cy="1841.0" r="7.9"/><circle cx="680.9" cy="1841.0" r="7.9"/><circle cx="681.3" cy="1841.0" r="7.9"/><circle cx="681.6" cy="1841.0" r="7.9"/><circle cx="681.9" cy="1841.0" r="7.9"/><circle cx="682.3" cy="1841.0" r="7.9"/><circle cx="682.6" cy="1840.9" r="7.9"/><circle cx="682.9" cy="1840.9" r="7.9"/><circle cx="683.2" cy="1840.9" r="7.9"/><circle cx="683.6" cy="1840.9" r="7.9"/><circle cx="683.9" cy="1840.9" r="7.9"/><circle cx="684.2" cy="1840.9" r="7.9"/><circle cx="684.5" cy="1840.9" r="7.9"/><circle cx="684.9" cy="1840.8" r="7.9"/><circle cx="685.2" cy="1840.8" r="7.9"/><circle cx="685.5" cy="1840.8" r="7.9"/><circle cx="685.8" cy="1840.8" r="7.9"/><circle cx="686.1" cy="1840.8" r="7.9"/><circle cx="686.4" cy="1840.8" r="7.9"/><circle cx="686.8" cy="1840.8" r="7.9"/><circle cx="687.1" cy="1840.7" r="7.9"/><circle cx="687.4" cy="1840.7" r="7.9"/><circle cx="687.7" cy="1840.7" r="7.9"/><circle cx="688.0" cy="1840.7" r="7.9"/><circle cx="688.3" cy="1840.7" r="7.9"/><circle cx="688.6" cy="1840.7" r="7.9"/><circle cx="688.9" cy="1840.7" r="7.9"/><circle cx="689.3" cy="1840.7" r="7.9"/><circle cx="689.6" cy="1840.6" r="7.9"/><circle cx="689.9" cy="1840.6" r="7.9"/><circle cx="690.2" cy="1840.6" r="7.9"/><circle cx="690.5" cy="1840.6" r="7.9"/><circle cx="690.8" cy="1840.6" r="7.9"/><circle cx="691.1" cy="1840.6" r="7.9"/><circle cx="691.4" cy="1840.6" r="7.9"/><circle cx="691.7" cy="1840.5" r="7.9"/><circle cx="692.0" cy="1840.5" r="7.9"/><circle cx="692.3" cy="1840.5" r="7.9"/><circle cx="692.6" cy="1840.5" r="7.9"/><circle cx="692.9" cy="1840.5" r="7.9"/><circle cx="693.2" cy="1840.5" r="7.9"/><circle cx="693.5" cy="1840.5" r="7.9"/><circle cx="693.8" cy="1840.5" r="7.9"/><circle cx="694.1" cy="1840.4" r="7.9"/><circle cx="694.4" cy="1840.4" r="7.9"/><circle cx="694.7" cy="1840.4" r="7.9"/><circle cx="695.0" cy="1840.4" r="7.9"/><circle cx="695.3" cy="1840.4" r="7.9"/><circle cx="695.5" cy="1840.4" r="7.9"/><circle cx="695.8" cy="1840.4" r="7.9"/><circle cx="696.1" cy="1840.4" r="7.9"/><circle cx="696.4" cy="1840.3" r="7.9"/><circle cx="696.7" cy="1840.3" r="7.9"/><circle cx="697.0" cy="1840.3" r="7.9"/><circle cx="697.3" cy="1840.3" r="7.9"/><circle cx="697.6" cy="1840.3" r="7.9"/><circle cx="697.9" cy="1840.3" r="7.9"/><circle cx="698.1" cy="1840.3" r="7.9"/><circle cx="698.4" cy="1840.3" r="7.9"/><circle cx="698.7" cy="1840.3" r="7.9"/><circle cx="699.0" cy="1840.2" r="7.9"/><circle cx="699.3" cy="1840.2" r="7.9"/><circle cx="699.6" cy="1840.2" r="7.9"/><circle cx="699.8" cy="1840.2" r="7.9"/><circle cx="700.1" cy="1840.2" r="7.9"/><circle cx="700.4" cy="1840.2" r="7.9"/><circle cx="700.7" cy="1840.2" r="7.9"/><circle cx="701.0" cy="1840.2" r="7.9"/><circle cx="701.2" cy="1840.1" r="7.9"/><circle cx="701.5" cy="1840.1" r="7.9"/><circle cx="701.8" cy="1840.1" r="7.9"/><circle cx="702.1" cy="1840.1" r="7.9"/><circle cx="702.3" cy="1840.1" r="7.9"/><circle cx="702.6" cy="1840.1" r="7.9"/><circle cx="1542.6" cy="1770.3" r="7.9"/><circle cx="1542.9" cy="1770.3" r="7.9"/><circle cx="1543.1" cy="1770.2" r="7.9"/><circle cx="1543.4" cy="1770.1" r="7.9"/><circle cx="1543.7" cy="1770.0" r="7.9"/><circle cx="1544.0" cy="1769.9" r="7.9"/><circle cx="1544.2" cy="1769.8" r="7.9"/><circle cx="1544.5" cy="1769.7" r="7.9"/><circle cx="1544.8" cy="1769.6" r="7.9"/><circle cx="1545.1" cy="1769.6" r="7.9"/><circle cx="1545.4" cy="1769.5" r="7.9"/><circle cx="1545.6" cy="1769.4" r="7.9"/><circle cx="1545.9" cy="1769.3" r="7.9"/><circle cx="1546.2" cy="1769.2" r="7.9"/><circle cx="1546.5" cy="1769.1" r="7.9"/><circle cx="1546.8" cy="1769.0" r="7.9"/><circle cx="1547.1" cy="1768.9" r="7.9"/><circle cx="1547.3" cy="1768.8" r="7.9"/><circle cx="1547.6" cy="1768.7" r="7.9"/><circle cx="1547.9" cy="1768.6" r="7.9"/><circle cx="1548.2" cy="1768.5" r="7.9"/><circle cx="1548.5" cy="1768.5" r="7.9"/><circle cx="1548.8" cy="1768.4" r="7.9"/><circle cx="1549.1" cy="1768.3" r="7.9"/><circle cx="1549.4" cy="1768.2" r="7.9"/><circle cx="1549.7" cy="1768.1" r="7.9"/><circle cx="1549.9" cy="1768.0" r="7.9"/><circle cx="1550.2" cy="1767.9" r="7.9"/><circle cx="1550.5" cy="1767.8" r="7.9"/><circle cx="1550.8" cy="1767.7" r="7.9"/><circle cx="1551.1" cy="1767.5" r="7.9"/><circle cx="1551.4" cy="1767.4" r="7.9"/><circle cx="1551.7" cy="1767.3" r="7.9"/><circle cx="1552.0" cy="1767.2" r="7.9"/><circle cx="1552.3" cy="1767.1" r="7.9"/><circle cx="1552.6" cy="1767.0" r="7.9"/><circle cx="1552.9" cy="1766.9" r="7.9"/><circle cx="1553.2" cy="1766.8" r="7.9"/><circle cx="1553.5" cy="1766.7" r="7.9"/><circle cx="1553.8" cy="1766.6" r="7.9"/><circle cx="1554.1" cy="1766.4" r="7.9"/><circle cx="1554.4" cy="1766.3" r="7.9"/><circle cx="1554.7" cy="1766.2" r="7.9"/><circle cx="1555.0" cy="1766.1" r="7.9"/><circle cx="1555.3" cy="1766.0" r="7.9"/><circle cx="1555.6" cy="1765.9" r="7.9"/><circle cx="1555.9" cy="1765.7" r="7.9"/><circle cx="1556.3" cy="1765.6" r="7.9"/><circle cx="1556.6" cy="1765.5" r="7.9"/><circle cx="1556.9" cy="1765.4" r="7.9"/><circle cx="1557.2" cy="1765.3" r="7.9"/><circle cx="1557.5" cy="1765.1" r="7.9"/><circle cx="1557.8" cy="1765.0" r="7.9"/><circle cx="1558.1" cy="1764.9" r="7.9"/><circle cx="1558.4" cy="1764.8" r="7.9"/><circle cx="1558.8" cy="1764.6" r="7.9"/><circle cx="1559.1" cy="1764.5" r="7.9"/><circle cx="1559.4" cy="1764.4" r="7.9"/><circle cx="1559.7" cy="1764.3" r="7.9"/><circle cx="1560.0" cy="1764.2" r="7.9"/><circle cx="1560.3" cy="1764.0" r="7.9"/><circle cx="1560.7" cy="1763.9" r="7.9"/><circle cx="1561.0" cy="1763.8" r="7.9"/><circle cx="1561.3" cy="1763.7" r="7.9"/><circle cx="1561.6" cy="1763.5" r="7.9"/><circle cx="1562.0" cy="1763.4" r="7.9"/><circle cx="1562.3" cy="1763.3" r="7.9"/><circle cx="1562.6" cy="1763.2" r="7.9"/><circle cx="1562.9" cy="1763.1" r="7.9"/><circle cx="1563.3" cy="1762.9" r="7.9"/><circle cx="1563.6" cy="1762.8" r="7.9"/><circle cx="1563.9" cy="1762.7" r="7.9"/><circle cx="1564.3" cy="1762.6" r="7.9"/><circle cx="1564.6" cy="1762.4" r="7.9"/><circle cx="1564.9" cy="1762.3" r="7.9"/><circle cx="1565.3" cy="1762.2" r="7.9"/><circle cx="1565.6" cy="1762.0" r="7.9"/><circle cx="1565.9" cy="1761.9" r="7.9"/><circle cx="1566.3" cy="1761.8" r="7.9"/><circle cx="1566.6" cy="1761.7" r="7.9"/><circle cx="1567.0" cy="1761.5" r="7.9"/><circle cx="1567.3" cy="1761.4" r="7.9"/><circle cx="1567.6" cy="1761.3" r="7.9"/><circle cx="1568.0" cy="1761.1" r="7.9"/><circle cx="1568.3" cy="1761.0" r="7.9"/><circle cx="1568.7" cy="1760.9" r="7.9"/><circle cx="1569.0" cy="1760.8" r="7.9"/><circle cx="1569.4" cy="1760.6" r="7.9"/><circle cx="1569.7" cy="1760.5" r="7.9"/><circle cx="1570.1" cy="1760.4" r="7.9"/><circle cx="1570.4" cy="1760.2" r="7.9"/><circle cx="1570.8" cy="1760.1" r="7.9"/><circle cx="1571.1" cy="1760.0" r="7.9"/><circle cx="1571.5" cy="1759.9" r="7.9"/><circle cx="1571.8" cy="1759.7" r="7.9"/><circle cx="1572.2" cy="1759.6" r="7.9"/><circle cx="1572.5" cy="1759.5" r="7.9"/><circle cx="1572.9" cy="1759.4" r="7.9"/><circle cx="1573.3" cy="1759.2" r="7.9"/><circle cx="1573.6" cy="1759.1" r="7.9"/><circle cx="1574.0" cy="1759.0" r="7.9"/><circle cx="1574.4" cy="1758.9" r="7.9"/><circle cx="1574.7" cy="1758.7" r="7.9"/><circle cx="1575.1" cy="1758.6" r="7.9"/><circle cx="1575.5" cy="1758.5" r="7.9"/><circle cx="1575.8" cy="1758.4" r="7.9"/><circle cx="1576.2" cy="1758.2" r="7.9"/><circle cx="1576.6" cy="1758.1" r="7.9"/><circle cx="1576.9" cy="1758.0" r="7.9"/><circle cx="1577.3" cy="1757.9" r="7.9"/><circle cx="1577.7" cy="1757.7" r="7.9"/><circle cx="1578.1" cy="1757.6" r="7.9"/><circle cx="1578.4" cy="1757.5" r="7.9"/><circle cx="1578.8" cy="1757.3" r="7.9"/><circle cx="1579.2" cy="1757.2" r="7.9"/><circle cx="1579.6" cy="1757.1" r="7.9"/><circle cx="1580.0" cy="1756.9" r="7.9"/><circle cx="1580.4" cy="1756.8" r="7.9"/><circle cx="1580.7" cy="1756.6" r="7.9"/><circle cx="1581.1" cy="1756.5" r="7.9"/><circle cx="1581.5" cy="1756.4" r="7.9"/><circle cx="1581.9" cy="1756.2" r="7.9"/><circle cx="1582.3" cy="1756.1" r="7.9"/><circle cx="1582.7" cy="1755.9" r="7.9"/><circle cx="1583.1" cy="1755.7" r="7.9"/><circle cx="1583.5" cy="1755.6" r="7.9"/><circle cx="1583.9" cy="1755.4" r="7.9"/><circle cx="1584.3" cy="1755.3" r="7.9"/><circle cx="1584.7" cy="1755.1" r="7.9"/><circle cx="1585.1" cy="1754.9" r="7.9"/><circle cx="1585.5" cy="1754.8" r="7.9"/><circle cx="1585.9" cy="1754.6" r="7.9"/><circle cx="1586.3" cy="1754.4" r="7.9"/><circle cx="1586.7" cy="1754.3" r="7.9"/><circle cx="1587.1" cy="1754.1" r="7.9"/><circle cx="1587.5" cy="1753.9" r="7.9"/><circle cx="1588.0" cy="1753.7" r="7.9"/><circle cx="1588.4" cy="1753.6" r="7.9"/><circle cx="1588.8" cy="1753.4" r="7.9"/><circle cx="1589.2" cy="1753.2" r="7.9"/><circle cx="1589.6" cy="1753.0" r="7.9"/><circle cx="1590.1" cy="1752.8" r="7.9"/><circle cx="1590.5" cy="1752.6" r="7.9"/><circle cx="1590.9" cy="1752.4" r="7.9"/><circle cx="1591.3" cy="1752.2" r="7.9"/><circle cx="1591.8" cy="1752.0" r="7.9"/><circle cx="1592.2" cy="1751.8" r="7.9"/><circle cx="1592.6" cy="1751.6" r="7.9"/><circle cx="1593.1" cy="1751.4" r="7.9"/><circle cx="1593.5" cy="1751.1" r="7.9"/><circle cx="1593.9" cy="1750.9" r="7.9"/><circle cx="1594.4" cy="1750.6" r="7.9"/><circle cx="1594.8" cy="1750.4" r="7.9"/><circle cx="1595.3" cy="1750.1" r="7.9"/><circle cx="1595.7" cy="1749.8" r="7.9"/><circle cx="1596.2" cy="1749.6" r="7.9"/><circle cx="1596.6" cy="1749.3" r="7.9"/><circle cx="1597.1" cy="1749.0" r="7.9"/><circle cx="1597.5" cy="1748.8" r="7.9"/><circle cx="1598.0" cy="1748.5" r="7.9"/><circle cx="1598.4" cy="1748.2" r="7.9"/><circle cx="1598.9" cy="1748.0" r="7.9"/><circle cx="1599.4" cy="1747.7" r="7.9"/><circle cx="1599.8" cy="1747.4" r="7.9"/><circle cx="1600.3" cy="1747.2" r="7.9"/><circle cx="1600.8" cy="1746.9" r="7.9"/><circle cx="1601.2" cy="1746.7" r="7.9"/><circle cx="1601.7" cy="1746.5" r="7.9"/><circle cx="1602.2" cy="1746.3" r="7.9"/><circle cx="1602.7" cy="1746.0" r="7.9"/><circle cx="1603.2" cy="1745.8" r="7.9"/><circle cx="1603.6" cy="1745.6" r="7.9"/><circle cx="1604.1" cy="1745.4" r="7.9"/><circle cx="1604.6" cy="1745.2" r="7.9"/><circle cx="1605.1" cy="1745.0" r="7.9"/><circle cx="1605.6" cy="1744.9" r="7.9"/><circle cx="1606.1" cy="1744.7" r="7.9"/><circle cx="1606.6" cy="1744.5" r="7.9"/><circle cx="1607.1" cy="1744.3" r="7.9"/><circle cx="1607.6" cy="1744.1" r="7.9"/><circle cx="1608.1" cy="1743.9" r="7.9"/><circle cx="1608.6" cy="1743.8" r="7.9"/><circle cx="1609.1" cy="1743.6" r="7.9"/><circle cx="1609.6" cy="1743.4" r="7.9"/><circle cx="1610.1" cy="1743.2" r="7.9"/><circle cx="1610.7" cy="1743.0" r="7.9"/><circle cx="1611.2" cy="1742.9" r="7.9"/><circle cx="1611.7" cy="1742.7" r="7.9"/><circle cx="1612.2" cy="1742.5" r="7.9"/><circle cx="1612.8" cy="1742.3" r="7.9"/><circle cx="1613.3" cy="1742.1" r="7.9"/><circle cx="1613.8" cy="1742.0" r="7.9"/><circle cx="1614.4" cy="1741.8" r="7.9"/><circle cx="1614.9" cy="1741.6" r="7.9"/><circle cx="1615.4" cy="1741.5" r="7.9"/><circle cx="1616.0" cy="1741.3" r="7.9"/><circle cx="1616.5" cy="1741.2" r="7.9"/><circle cx="1617.1" cy="1741.0" r="7.9"/><circle cx="1617.7" cy="1740.8" r="7.9"/><circle cx="1618.2" cy="1740.7" r="7.9"/><circle cx="1618.8" cy="1740.5" r="7.9"/><circle cx="1619.3" cy="1740.3" r="7.9"/><circle cx="1619.9" cy="1740.1" r="7.9"/><circle cx="1620.5" cy="1740.0" r="7.9"/><circle cx="1621.1" cy="1739.8" r="7.9"/><circle cx="1621.6" cy="1739.6" r="7.9"/><circle cx="1622.2" cy="1739.3" r="7.9"/><circle cx="1622.8" cy="1739.1" r="7.9"/><circle cx="1623.4" cy="1738.8" r="7.9"/><circle cx="1624.0" cy="1738.6" r="7.9"/><circle cx="1624.6" cy="1738.3" r="7.9"/><circle cx="1625.2" cy="1737.9" r="7.9"/><circle cx="1625.8" cy="1737.6" r="7.9"/><circle cx="1626.4" cy="1737.2" r="7.9"/><circle cx="1627.0" cy="1736.8" r="7.9"/><circle cx="1627.6" cy="1736.5" r="7.9"/><circle cx="1628.3" cy="1736.1" r="7.9"/><circle cx="1628.9" cy="1735.7" r="7.9"/><circle cx="1629.5" cy="1735.3" r="7.9"/><circle cx="1630.1" cy="1734.9" r="7.9"/><circle cx="1630.8" cy="1734.5" r="7.9"/><circle cx="1631.4" cy="1734.1" r="7.9"/><circle cx="1632.1" cy="1733.7" r="7.9"/><circle cx="1632.7" cy="1733.4" r="7.9"/><circle cx="1633.4" cy="1733.0" r="7.9"/><circle cx="1634.0" cy="1732.7" r="7.9"/><circle cx="1634.7" cy="1732.4" r="7.9"/><circle cx="1635.4" cy="1732.1" r="7.9"/><circle cx="1636.0" cy="1731.8" r="7.9"/><circle cx="1636.7" cy="1731.5" r="7.9"/><circle cx="1637.4" cy="1731.2" r="7.9"/><circle cx="1638.1" cy="1730.9" r="7.9"/><circle cx="1638.8" cy="1730.6" r="7.9"/><circle cx="1639.5" cy="1730.3" r="7.9"/><circle cx="1640.2" cy="1729.9" r="7.9"/><circle cx="1640.9" cy="1729.5" r="7.9"/><circle cx="1641.6" cy="1729.1" r="7.9"/><circle cx="1642.3" cy="1728.7" r="7.9"/><circle cx="1643.1" cy="1728.3" r="7.9"/><circle cx="1643.8" cy="1727.8" r="7.9"/><circle cx="1644.5" cy="1727.3" r="7.9"/><circle cx="1645.3" cy="1726.9" r="7.9"/><circle cx="1646.0" cy="1726.5" r="7.9"/><circle cx="1646.8" cy="1726.0" r="7.9"/><circle cx="1647.5" cy="1725.6" r="7.9"/><circle cx="1648.3" cy="1725.3" r="7.9"/><circle cx="1649.1" cy="1725.0" r="7.9"/><circle cx="1649.9" cy="1724.7" r="7.9"/><circle cx="1650.6" cy="1724.5" r="7.9"/><circle cx="1651.4" cy="1724.4" r="7.9"/><circle cx="1652.2" cy="1724.2" r="7.9"/><circle cx="1653.0" cy="1724.1" r="7.9"/><circle cx="1653.9" cy="1723.9" r="7.9"/><circle cx="1654.7" cy="1723.6" r="7.9"/><circle cx="1655.5" cy="1723.3" r="7.9"/><circle cx="1656.4" cy="1722.6" r="7.9"/><circle cx="1657.2" cy="1720.6" r="7.9"/><circle cx="1658.1" cy="1717.7" r="7.9"/><circle cx="1658.9" cy="1715.1" r="7.9"/><circle cx="1659.8" cy="1713.7" r="7.9"/><circle cx="1660.7" cy="1712.8" r="7.9"/><circle cx="1661.6" cy="1712.0" r="7.9"/><circle cx="1662.5" cy="1711.4" r="7.9"/><circle cx="1663.4" cy="1710.8" r="7.9"/><circle cx="1664.3" cy="1710.3" r="7.9"/><circle cx="1665.2" cy="1709.8" r="7.9"/><circle cx="1666.1" cy="1709.3" r="7.9"/><circle cx="1667.1" cy="1708.8" r="7.9"/><circle cx="1668.0" cy="1708.3" r="7.9"/><circle cx="1669.0" cy="1707.8" r="7.9"/><circle cx="1670.0" cy="1707.4" r="7.9"/><circle cx="1671.0" cy="1707.0" r="7.9"/><circle cx="1672.0" cy="1706.6" r="7.9"/><circle cx="1673.0" cy="1706.1" r="7.9"/><circle cx="1674.0" cy="1705.7" r="7.9"/><circle cx="1675.0" cy="1705.2" r="7.9"/><circle cx="1676.1" cy="1704.6" r="7.9"/><circle cx="1677.1" cy="1703.9" r="7.9"/><circle cx="1678.2" cy="1702.9" r="7.9"/><circle cx="1679.3" cy="1701.7" r="7.9"/><circle cx="1680.4" cy="1700.6" r="7.9"/><circle cx="1681.5" cy="1699.6" r="7.9"/><circle cx="1682.6" cy="1698.6" r="7.9"/><circle cx="1683.8" cy="1697.6" r="7.9"/><circle cx="1684.9" cy="1696.6" r="7.9"/><circle cx="1686.1" cy="1695.5" r="7.9"/><circle cx="1687.3" cy="1694.4" r="7.9"/><circle cx="1688.5" cy="1693.1" r="7.9"/><circle cx="1689.7" cy="1691.8" r="7.9"/><circle cx="1691.0" cy="1690.4" r="7.9"/><circle cx="1692.2" cy="1688.9" r="7.9"/><circle cx="1693.5" cy="1687.5" r="7.9"/><circle cx="1694.8" cy="1686.2" r="7.9"/><circle cx="1696.1" cy="1684.9" r="7.9"/><circle cx="1697.5" cy="1683.7" r="7.9"/><circle cx="1698.8" cy="1682.5" r="7.9"/><circle cx="1700.2" cy="1681.2" r="7.9"/><circle cx="1701.6" cy="1679.9" r="7.9"/><circle cx="1703.1" cy="1678.4" r="7.9"/><circle cx="1704.5" cy="1676.8" r="7.9"/><circle cx="1706.0" cy="1675.1" r="7.9"/><circle cx="1707.5" cy="1673.5" r="7.9"/><circle cx="1709.1" cy="1672.2" r="7.9"/><circle cx="1710.6" cy="1671.1" r="7.9"/><circle cx="1712.2" cy="1670.2" r="7.9"/><circle cx="1713.9" cy="1667.0" r="7.9"/><circle cx="1715.5" cy="1667.0" r="7.9"/><circle cx="1717.2" cy="1666.0" r="7.9"/><circle cx="1718.9" cy="1666.0" r="7.9"/><circle cx="1720.7" cy="1665.0" r="7.9"/><circle cx="1722.5" cy="1665.0" r="7.9"/><circle cx="1724.4" cy="1665.0" r="7.9"/><circle cx="1726.3" cy="1653.0" r="7.9"/><circle cx="1728.2" cy="1652.0" r="7.9"/><circle cx="1730.2" cy="1639.0" r="7.9"/><circle cx="1732.3" cy="1638.0" r="7.9"/><circle cx="1734.4" cy="1637.0" r="7.9"/><circle cx="1736.5" cy="1622.0" r="7.9"/><circle cx="1738.7" cy="1622.0" r="7.9"/><circle cx="1741.0" cy="1621.0" r="7.9"/><circle cx="1743.4" cy="1621.0" r="7.9"/><circle cx="1745.8" cy="1620.0" r="7.9"/><circle cx="1748.3" cy="1611.0" r="7.9"/><circle cx="1750.9" cy="1611.0" r="7.9"/><circle cx="1753.6" cy="1597.0" r="7.9"/><circle cx="1756.3" cy="1596.0" r="7.9"/><circle cx="1759.2" cy="1596.0" r="7.9"/><circle cx="1762.2" cy="1576.2" r="7.9"/><circle cx="1765.3" cy="1557.3" r="7.9"/><circle cx="1768.6" cy="1541.8" r="7.9"/><circle cx="1772.0" cy="1535.5" r="7.9"/><circle cx="1775.5" cy="1525.6" r="7.9"/><circle cx="1779.3" cy="1508.0" r="7.9"/><circle cx="1783.2" cy="1496.7" r="7.9"/><circle cx="1787.4" cy="1496.7" r="7.9"/><circle cx="1791.8" cy="1485.3" r="7.9"/><circle cx="1796.5" cy="1484.2" r="7.9"/><circle cx="1801.5" cy="1470.8" r="7.9"/><circle cx="1806.9" cy="1471.0" r="7.9"/><circle cx="1812.8" cy="1457.5" r="7.9"/><circle cx="1819.2" cy="1337.3" r="7.9"/><circle cx="1826.3" cy="1326.2" r="7.9"/><circle cx="1834.2" cy="1196.1" r="7.9"/><circle cx="1843.1" cy="881.7" r="7.9"/><circle cx="1853.4" cy="456.8" r="7.9"/><circle cx="1865.6" cy="404.0" r="7.9"/><circle cx="1880.6" cy="350.8" r="7.9"/><circle cx="1900.4" cy="289.5" r="7.9"/><circle cx="1929.5" cy="216.6" r="7.9"/><circle cx="1989.2" cy="111.1" r="7.9"/></g><path d="M169.0 1855.2L2075.8 1796.2" stroke="#000" stroke-width="4.45"/></g><rect x="170.11" y="24.01" width="1904.58" height="1941.88" fill="none" stroke="#333" stroke-width="2.22"/><path d="M157.5 1819.6H169.0M157.5 1448.7H169.0M157.5 1077.8H169.0M157.5 706.8H169.0M157.5 335.9H169.0M243.8 1967.0V1978.5M683.2 1967.0V1978.5M1122.6 1967.0V1978.5M1562.0 1967.0V1978.5M2001.4 1967.0V1978.5" stroke="#333" stroke-width="4.45" fill="none"/><g font-family="'Liberation Sans', sans-serif" font-size="36.67" fill="#4D4D4D"><text transform="translate(148.1 1833.2) scale(1 1.02)" text-anchor="end">0.00</text><text transform="translate(148.1 1462.3) scale(1 1.02)" text-anchor="end">0.01</text><text transform="translate(148.1 1091.4) scale(1 1.02)" text-anchor="end">0.02</text><text transform="translate(148.1 720.4) scale(1 1.02)" text-anchor="end">0.03</text><text transform="translate(148.1 349.5) scale(1 1.02)" text-anchor="end">0.04</text><text transform="translate(243.8 2014.0) scale(1 1.02)" text-anchor="middle">-4</text><text transform="translate(683.2 2014.0) scale(1 1.02)" text-anchor="middle">-2</text><text transform="translate(1122.6 2014.0) scale(1 1.02)" text-anchor="middle">0</text><text transform="translate(1562.0 2014.0) scale(1 1.02)" text-anchor="middle">2</text><text transform="translate(2001.4 2014.0) scale(1 1.02)" text-anchor="middle">4</text></g><g font-family="'Liberation Sans', sans-serif" font-size="45.83" fill="#000"><text transform="translate(1122.3 2066.1) scale(1 1.03)" text-anchor="middle">Theoretical Normal Distribution (Z-score)</text><text transform="translate(56.2 995.6) rotate(-90) scale(1 1.03)" text-anchor="middle">Observed Loadings</text></g></svg></body></html>
